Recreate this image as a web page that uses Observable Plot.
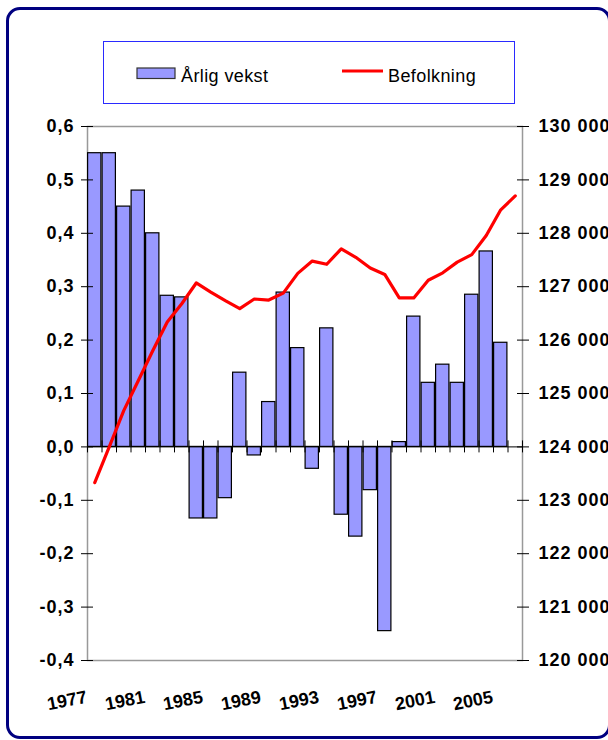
<!DOCTYPE html>
<html><head><meta charset="utf-8">
<script src="https://cdn.jsdelivr.net/npm/d3@7"></script>
<script src="https://cdn.jsdelivr.net/npm/@observablehq/plot@0.6"></script>
<style>
html,body{margin:0;padding:0;background:#fff;}
#wrap{position:relative;width:608px;height:740px;overflow:hidden;font-family:"Liberation Sans",Arial,sans-serif;}
#chart{position:absolute;left:0;top:0;}
#frame{position:absolute;left:6px;top:7px;width:605px;height:732px;box-sizing:border-box;border:3px solid #000080;border-radius:14px;pointer-events:none;}
#legend{position:absolute;left:0;top:0;}
.c g[aria-label="y-axis tick label"] text{letter-spacing:1px;}
</style></head><body>
<div id="wrap"><div id="chart"></div><div id="frame"></div><svg id="legend" width="608" height="120"></svg></div>
<script>
const years = [1977,1978,1979,1980,1981,1982,1983,1984,1985,1986,1987,1988,1989,1990,1991,1992,1993,1994,1995,1996,1997,1998,1999,2000,2001,2002,2003,2004,2005,2006];
const growth = [0.55,0.55,0.45,0.48,0.40,0.283,0.28,-0.134,-0.134,-0.096,0.139,-0.016,0.084,0.289,0.185,-0.041,0.222,-0.127,-0.168,-0.081,-0.345,0.009,0.244,0.12,0.154,0.12,0.285,0.366,0.195,null];
const population = [123330,124000,124680,125240,125800,126340,126680,127070,126900,126740,126590,126770,126750,126880,127250,127480,127420,127710,127550,127350,127230,126790,126790,127120,127260,127460,127600,127960,128440,128700];
const yTicks = [-0.4,-0.3,-0.2,-0.1,0,0.1,0.2,0.3,0.4,0.5,0.6];
const leftLabels = ["-0,4","-0,3","-0,2","-0,1","0,0","0,1","0,2","0,3","0,4","0,5","0,6"];
const rightLabels = ["120 000","121 000","122 000","123 000","124 000","125 000","126 000","127 000","128 000","129 000","130 000"];
const xLabelYears = [1977,1981,1985,1989,1993,1997,2001,2005];
const seriesNames = ["Årlig vekst","Befolkning"];

// right axis: 124 000 sits on 0, 1 000 per 0,1
const popBase = 124000, popPerUnit = 10000;

const barData = years.map((y,i)=>({year:y, value:growth[i]})).filter(d=>d.value!=null);
const popData = years.map((y,i)=>({year:y, pop:population[i]}));
const boundaries = [years[0]-0.5, ...years.map(y=>y+0.5)];

const font = '"Liberation Sans", Arial, sans-serif';
const chart = Plot.plot({
  width: 608, height: 740,
  marginLeft: 87, marginRight: 86, marginTop: 126, marginBottom: 80,
  className: "c",
  style: {fontFamily: font, fontSize: "18px", fontWeight: "bold", color: "#000", background: "transparent"},
  x: {domain: [years[0]-0.5, years[years.length-1]+0.5], axis: null},
  y: {domain: [yTicks[0], yTicks[yTicks.length-1]], axis: null},
  marks: [
    Plot.frame({stroke: "#999", strokeWidth: 1.5}),
    Plot.rectY(barData, {x1: d=>d.year-0.5, x2: d=>d.year+0.5, y1: 0, y2: "value", insetLeft: 0.6, insetRight: 0.6, fill: "#9999ff", stroke: "#000", strokeWidth: 1.2}),
    Plot.ruleY([0], {stroke: "#000", strokeWidth: 1}),
    Plot.ruleX(boundaries, {x: d=>d, y1: 0, y2: 0, insetTop: -6, insetBottom: -6, stroke: "#000", strokeWidth: 1}),
    Plot.line(popData, {x: "year", y: d=>(d.pop-popBase)/popPerUnit, stroke: "#ff0000", strokeWidth: 3.2}),
    Plot.axisY({anchor: "left", label: null, ticks: yTicks, tickSize: 12, dx: 6, tickFormat: () => "", stroke: "#000"}),
    Plot.axisY({anchor: "right", label: null, ticks: yTicks, tickSize: 12, dx: -6, tickFormat: () => "", stroke: "#000"}),
    Plot.axisY({anchor: "left", label: null, ticks: yTicks, tickSize: 0, tickPadding: 13, line: true, tickFormat: d => leftLabels[yTicks.indexOf(d)], fontSize: 18, fontWeight: "bold", fill: "#000"}),
    Plot.axisY({anchor: "right", label: null, ticks: yTicks, tickSize: 0, tickPadding: 16, line: true, tickFormat: d => rightLabels[yTicks.indexOf(d)], fontSize: 18, fontWeight: "bold", fill: "#000"}),
    Plot.text(xLabelYears, {x: d=>d, text: d=>String(d), frameAnchor: "bottom", textAnchor: "end", lineAnchor: "bottom", rotate: -11, dx: -7, dy: 42, fontSize: 18, fontWeight: "bold", fill: "#000"})
  ]
});
document.getElementById("chart").appendChild(chart);

// legend
const lg = d3.select("#legend");
lg.append("rect").attr("x",103.5).attr("y",41.5).attr("width",411).attr("height",62).attr("fill","#fff").attr("stroke","#2a2aff").attr("stroke-width",1);
lg.append("rect").attr("x",137).attr("y",68).attr("width",38).attr("height",10.5).attr("fill","#9999ff").attr("stroke","#333").attr("stroke-width",1.2);
lg.append("text").attr("x",181).attr("y",82).attr("font-family",font).attr("font-size",18).attr("letter-spacing","0.4px").attr("fill","#000").text(seriesNames[0]);
lg.append("line").attr("x1",342).attr("x2",383).attr("y1",71).attr("y2",71).attr("stroke","#ff0000").attr("stroke-width",3);
lg.append("text").attr("x",388).attr("y",82).attr("font-family",font).attr("font-size",18).attr("letter-spacing","0.4px").attr("fill","#000").text(seriesNames[1]);
</script>
</body></html>
